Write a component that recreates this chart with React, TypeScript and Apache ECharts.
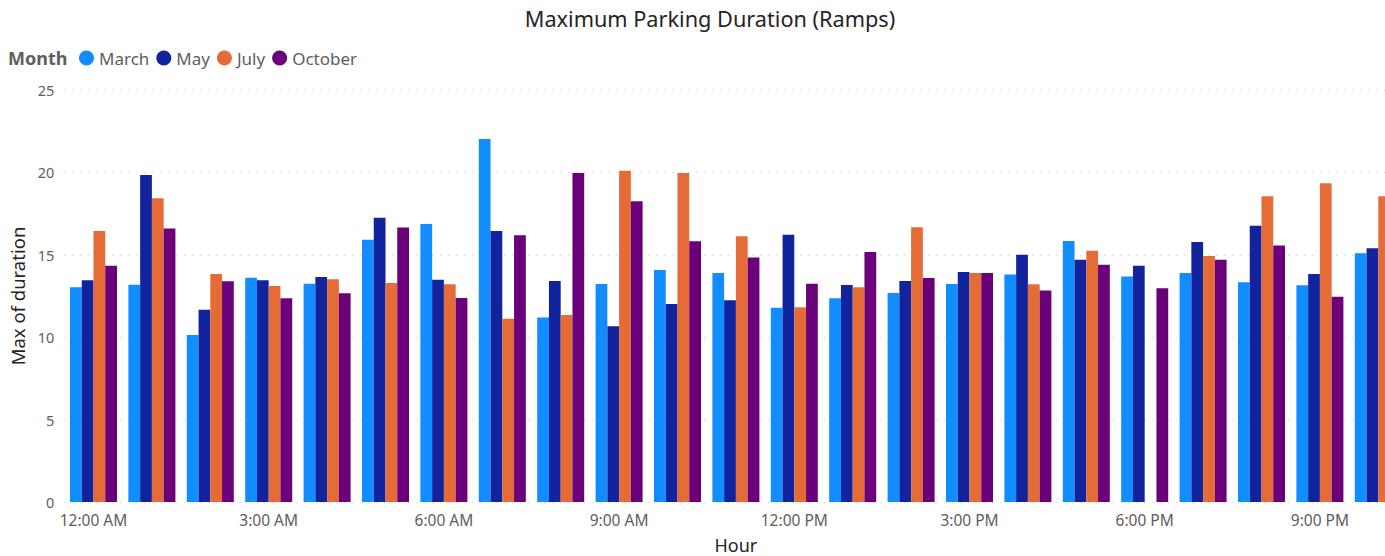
import React, { useEffect, useRef } from "react";
import * as echarts from "echarts";

const hours = [
  "12:00 AM", "1:00 AM", "2:00 AM", "3:00 AM", "4:00 AM", "5:00 AM",
  "6:00 AM", "7:00 AM", "8:00 AM", "9:00 AM", "10:00 AM", "11:00 AM",
  "12:00 PM", "1:00 PM", "2:00 PM", "3:00 PM", "4:00 PM", "5:00 PM",
  "6:00 PM", "7:00 PM", "8:00 PM", "9:00 PM", "10:00 PM",
];

const march = [13.03, 13.19, 10.13, 13.61, 13.25, 15.92, 16.87, 22.03, 11.2, 13.23, 14.08, 13.9, 11.79, 12.36, 12.68, 13.23, 13.81, 15.84, 13.69, 13.9, 13.33, 13.15, 15.09];
const may = [13.45, 19.84, 11.67, 13.45, 13.65, 17.25, 13.49, 16.44, 13.41, 10.66, 12.01, 12.24, 16.22, 13.17, 13.41, 13.96, 15.01, 14.7, 14.34, 15.78, 16.77, 13.83, 15.39];
const july = [16.44, 18.43, 13.83, 13.11, 13.51, 13.29, 13.21, 11.12, 11.35, 20.1, 19.96, 16.12, 11.81, 13.03, 16.67, 13.9, 13.21, 15.25, null, 14.93, 18.55, 19.34, 18.55];
const october = [14.34, 16.6, 13.39, 12.36, 12.66, 16.65, 12.38, 16.18, 19.96, 18.25, 15.82, 14.83, 13.25, 15.17, 13.59, 13.9, 12.84, 14.4, 12.97, 14.7, 15.57, 12.46, null];

const seriesNames = ["March", "May", "July", "October"];
const seriesColors = ["#118DFF", "#12239E", "#E66C37", "#6B007B"];
const yTicks = [0, 25, 5];

const FONT = "'Segoe UI', 'Noto Sans', 'Open Sans', sans-serif";

export default function App() {
  const ref = useRef<HTMLDivElement>(null);
  useEffect(() => {
    document.body.style.margin = "0";
    const chart = echarts.init(ref.current!, null, { renderer: "svg" });
    const data = [march, may, july, october];
    const bandWidth = 58.4;
    chart.setOption({
      animation: false,
      textStyle: { fontFamily: FONT },
      title: {
        text: "Maximum Parking Duration (Ramps)",
        left: 705,
        textAlign: "center",
        top: 2,
        textStyle: { fontFamily: FONT, fontSize: 21.7, fontWeight: "normal", color: "#252423" },
      },
      legend: {
        left: 74,
        top: 44.5,
        icon: "circle",
        itemWidth: 15,
        itemHeight: 15,
        itemGap: 7,
        textStyle: { fontFamily: FONT, fontSize: 17, color: "#605E5C" },
        data: seriesNames,
      },
      graphic: [
        {
          type: "text",
          x: 8,
          y: 58,
          style: {
            text: "Month",
            fontFamily: FONT,
            fontSize: 18,
            fontWeight: "bold",
            fill: "#605E5C",
            verticalAlign: "middle",
          },
        },
      ],
      grid: {
        left: 64.3,
        top: 90,
        height: 412,
        width: bandWidth * hours.length,
        containLabel: false,
        outerBoundsMode: "none",
      },
      xAxis: {
        type: "category",
        data: hours,
        name: "Hour",
        nameLocation: "middle",
        nameGap: 34,
        nameTextStyle: { fontFamily: FONT, fontSize: 18, color: "#252423" },
        axisLine: { show: false },
        axisTick: { show: false },
        axisLabel: { interval: 2, fontFamily: FONT, fontSize: 15.5, color: "#605E5C", margin: 10 },
      },
      yAxis: {
        type: "value",
        min: yTicks[0],
        max: yTicks[1],
        interval: yTicks[2],
        name: "Max of duration",
        nameLocation: "middle",
        nameGap: 37,
        nameTextStyle: { fontFamily: FONT, fontSize: 18.5, color: "#252423" },
        axisLine: { show: false },
        axisTick: { show: false },
        axisLabel: { fontFamily: FONT, fontSize: 14.5, color: "#605E5C", margin: 10 },
        splitLine: { show: true, lineStyle: { color: "#C8C6C4", width: 1, type: [1, 7] } },
      },
      series: seriesNames.map((name, i) => ({
        name,
        type: "bar",
        data: data[i],
        barGap: "0%",
        barCategoryGap: "19.5%",
        itemStyle: { color: seriesColors[i] },
      })),
    });
    return () => chart.dispose();
  }, []);
  return <div ref={ref} style={{ width: 1385, height: 556 }} />;
}
